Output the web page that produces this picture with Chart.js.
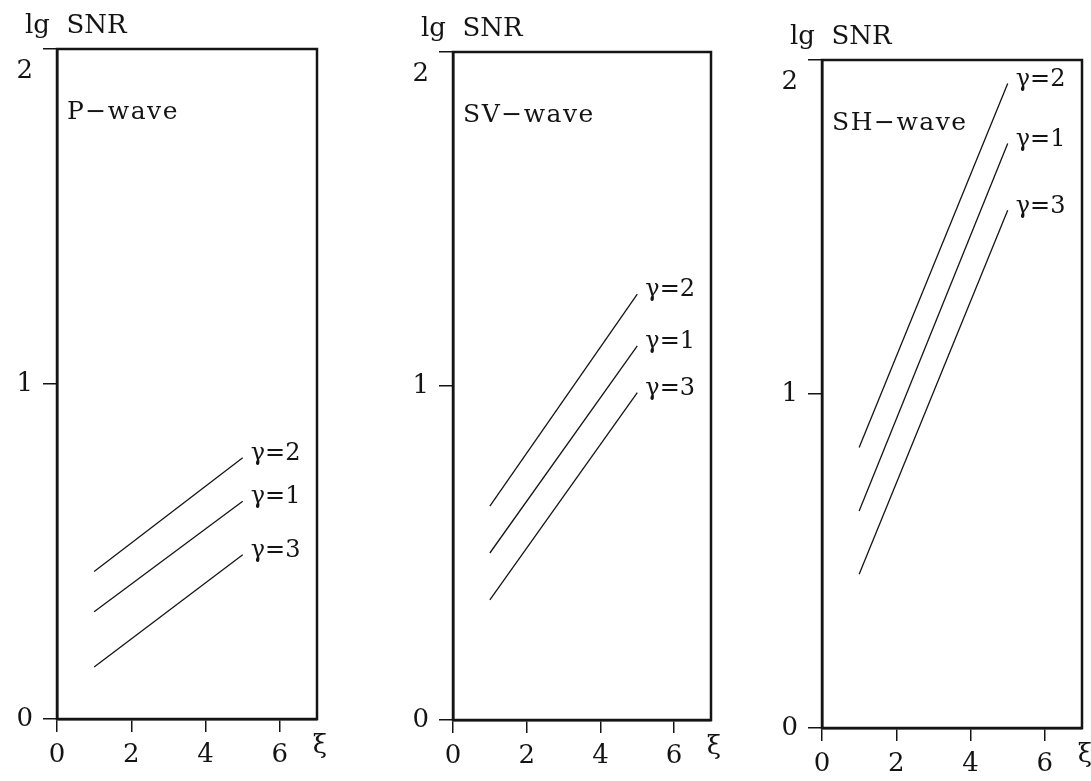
<!DOCTYPE html>
<html>
<head>
<meta charset="utf-8">
<title>lg SNR vs xi</title>
<script src="https://cdn.jsdelivr.net/npm/chart.js@4.4.1/dist/chart.umd.min.js"></script>
<style>
  body { margin: 0; background: #fff; }
  canvas { position: absolute; left: 0; top: 0; }
</style>
</head>
<body>
<canvas id="chartP" width="1091" height="781"></canvas>
<canvas id="chartSV" width="1091" height="781"></canvas>
<canvas id="chartSH" width="1091" height="781"></canvas>
<script>
// data
const xPoints = [1, 5];
const xTicks = [0, 2, 4, 6];
const yTicks = [0, 1, 2];
const gammaLabels = ["γ=2", "γ=1", "γ=3"];

const pWaveG2 = [0.44, 0.78];
const pWaveG1 = [0.32, 0.65];
const pWaveG3 = [0.155, 0.49];

const svWaveG2 = [0.64, 1.275];
const svWaveG1 = [0.50, 1.12];
const svWaveG3 = [0.36, 0.98];

const shWaveG2 = [0.84, 1.93];
const shWaveG1 = [0.65, 1.75];
const shWaveG3 = [0.46, 1.55];

const INK = "#141414";
const FONT = '"DejaVu Serif", "Liberation Serif", serif';

// frame, y labels, titles and gamma labels
const annotate = {
  id: "annotate",
  afterDraw(chart, args, opts) {
    const { ctx, chartArea: a, scales } = chart;
    const y = scales.y;
    ctx.save();
    ctx.lineWidth = 2.5;
    ctx.strokeStyle = INK;
    ctx.strokeRect(a.left, a.top, a.right - a.left, a.bottom - a.top);

    ctx.fillStyle = INK;
    ctx.font = "26px " + FONT;
    ctx.textAlign = "right";
    ctx.textBaseline = "middle";
    y.ticks.forEach((t) => {
      let py = y.getPixelForValue(t.value);
      if (t.value === y.max) py += 22; // "2" sits below the top line
      ctx.fillText(String(t.value), a.left - 24, py);
    });

    ctx.textAlign = "left";
    ctx.textBaseline = "alphabetic";
    ctx.fillText("lg  SNR", a.left - 32, a.top - 16);
    ctx.textAlign = "center";
    ctx.fillText("ξ", a.right + 3, a.bottom + 34);

    ctx.textAlign = "left";
    ctx.font = "25px " + FONT;
    ctx.letterSpacing = "1.5px";
    ctx.fillText(opts.title, a.left + 10, a.top + 70);

    ctx.font = "24px " + FONT;
    ctx.letterSpacing = "0px";
    ctx.textBaseline = "middle";
    chart.data.datasets.forEach((ds, i) => {
      const pts = chart.getDatasetMeta(i).data;
      const last = pts[pts.length - 1];
      ctx.fillText(ds.label, last.x + 8, last.y - 4);
    });
    ctx.restore();
  },
};

function makePanel(id, title, series, box) {
  const yW = 40;
  const datasets = series.map((vals, i) => ({
    label: gammaLabels[i],
    data: xPoints.map((x, k) => ({ x: x, y: vals[k] })),
    showLine: true,
    borderColor: INK,
    borderWidth: 1.3,
    pointRadius: 0,
    fill: false,
  }));

  return new Chart(document.getElementById(id), {
    type: "scatter",
    data: { datasets: datasets },
    options: {
      responsive: false,
      animation: false,
      layout: {
        padding: { left: box.l - yW, top: box.t, right: 1091 - box.r, bottom: 0 },
      },
      plugins: {
        legend: { display: false },
        tooltip: { enabled: false },
        annotate: { title: title },
      },
      scales: {
        x: {
          type: "linear",
          min: 0,
          max: 7,
          afterBuildTicks: (s) => { s.ticks = xTicks.map((v) => ({ value: v })); },
          afterFit: (s) => { s.height = 781 - box.b; },
          grid: { drawOnChartArea: false, drawTicks: true, tickLength: 13, color: INK, lineWidth: 1.5 },
          border: { display: true, color: INK, width: 2.5 },
          ticks: { color: INK, font: { family: FONT, size: 26 }, padding: 8, maxRotation: 0 },
        },
        y: {
          type: "linear",
          min: 0,
          max: 2,
          afterBuildTicks: (s) => { s.ticks = yTicks.map((v) => ({ value: v })); },
          afterFit: (s) => { s.width = yW; },
          grid: { drawOnChartArea: false, drawTicks: true, tickLength: 14, color: INK, lineWidth: 1.5 },
          border: { display: true, color: INK, width: 2.5 },
          ticks: { display: false },
        },
      },
    },
    plugins: [annotate],
  });
}

makePanel("chartP", "P−wave", [pWaveG2, pWaveG1, pWaveG3], { l: 57, t: 49, r: 317, b: 719 });
makePanel("chartSV", "SV−wave", [svWaveG2, svWaveG1, svWaveG3], { l: 453, t: 52, r: 711, b: 720 });
makePanel("chartSH", "SH−wave", [shWaveG2, shWaveG1, shWaveG3], { l: 822, t: 60, r: 1082, b: 728 });
</script>
</body>
</html>
